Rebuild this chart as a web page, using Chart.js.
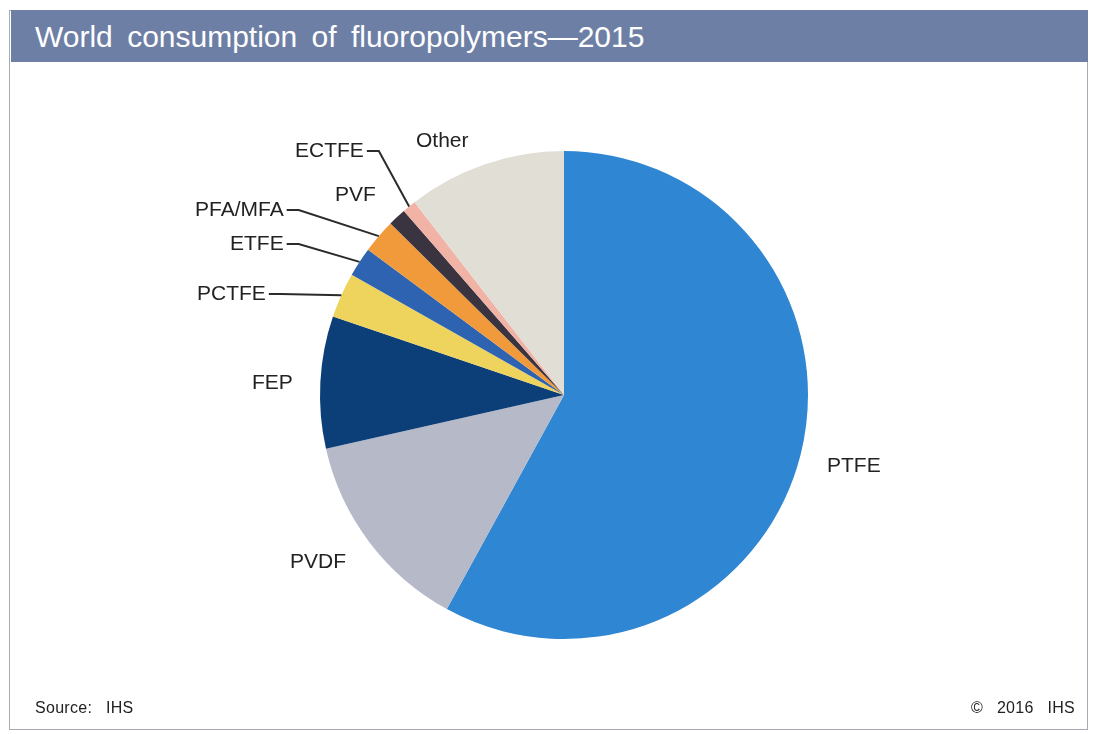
<!DOCTYPE html>
<html>
<head>
<meta charset="utf-8">
<script src="https://cdn.jsdelivr.net/npm/chart.js@4"></script>
<style>
    body { margin: 0; width: 1097px; height: 734px; background: #fff; overflow: hidden; position: relative;
           font-family: "Liberation Sans", Arial, sans-serif; }
    #frame { position: absolute; left: 9px; top: 10px; width: 1079px; height: 720px;
             border: 1px solid #a7abb4; box-sizing: border-box; }
    #title { position: absolute; left: 11px; top: 10px; width: 1077px; height: 52px; background: #6e7fa6;
             color: #fff; font-size: 30px; line-height: 54px; padding-left: 24px; box-sizing: border-box;
             word-spacing: 6px; }
    .foot { position: absolute; top: 699px; font-size: 16px; color: #222; word-spacing: 9px; letter-spacing: 0.3px; }
    #chart { position: absolute; left: 0; top: 0; }
</style>
</head>
<body>
<div id="frame"></div>
<div id="title">World consumption of fluoropolymers—2015</div>
<canvas id="chart" width="1097" height="734"></canvas>
<div class="foot" style="left:35px">Source: IHS</div>
<div class="foot" style="right:22px">© 2016 IHS</div>
<script>
document.addEventListener('DOMContentLoaded', function () {
    // данные (доля, %)
    const polymers = ['PTFE', 'PVDF', 'FEP', 'PCTFE', 'ETFE', 'PFA/MFA', 'PVF', 'ECTFE', 'Other'];
    const shares = [58.0, 13.5, 8.75, 3.0, 1.95, 2.25, 1.2, 0.9, 10.5];
    const colors = ['#2f86d2', '#b5b9c8', '#0c3f78', '#eed35c', '#2d63b0', '#f09a3c', '#3a3340', '#f0b3a6', '#e1ded6'];

    // где ставить подписи (смещение от центра круга)
    const labelLayout = [
        { dx: 263, dy: 71 },
        { dx: -274, dy: 167 },
        { dx: -312, dy: -12 },
        { dx: -367, dy: -101, leader: true },
        { dx: -334, dy: -151, leader: true },
        { dx: -369, dy: -185, leader: true },
        { dx: -229, dy: -200 },
        { dx: -269, dy: -244, leader: true },
        { dx: -148, dy: -254 }
    ];

    const labelsPlugin = {
        id: 'sliceLabels',
        afterDraw(chart) {
            const ctx = chart.ctx;
            const arcs = chart.getDatasetMeta(0).data;
            ctx.save();
            ctx.font = '21px "Liberation Sans", Arial, sans-serif';
            ctx.fillStyle = '#222';
            ctx.textBaseline = 'middle';
            ctx.textAlign = 'left';
            arcs.forEach((arc, i) => {
                const lay = labelLayout[i];
                const tx = arc.x + lay.dx;
                const ty = arc.y + lay.dy;
                ctx.fillText(polymers[i], tx, ty);
                if (lay.leader) {
                    const mid = (arc.startAngle + arc.endAngle) / 2;
                    const ex = arc.x + arc.outerRadius * Math.cos(mid);
                    const ey = arc.y + arc.outerRadius * Math.sin(mid);
                    const sx = tx + ctx.measureText(polymers[i]).width + 3;
                    ctx.beginPath();
                    ctx.strokeStyle = '#2b2b2b';
                    ctx.lineWidth = 2;
                    ctx.moveTo(sx, ty);
                    ctx.lineTo(sx + 12, ty);
                    ctx.lineTo(ex, ey);
                    ctx.stroke();
                }
            });
            ctx.restore();
        }
    };

    new Chart(document.getElementById('chart').getContext('2d'), {
        type: 'pie',
        data: {
            labels: polymers,
            datasets: [{
                data: shares,
                backgroundColor: colors,
                borderWidth: 0,
                hoverOffset: 0
            }]
        },
        options: {
            responsive: false,
            animation: false,
            layout: { padding: { left: 320, right: 289, top: 151, bottom: 95 } },
            plugins: {
                legend: { display: false },
                tooltip: { enabled: false }
            }
        },
        plugins: [labelsPlugin]
    });
});
</script>
</body>
</html>
